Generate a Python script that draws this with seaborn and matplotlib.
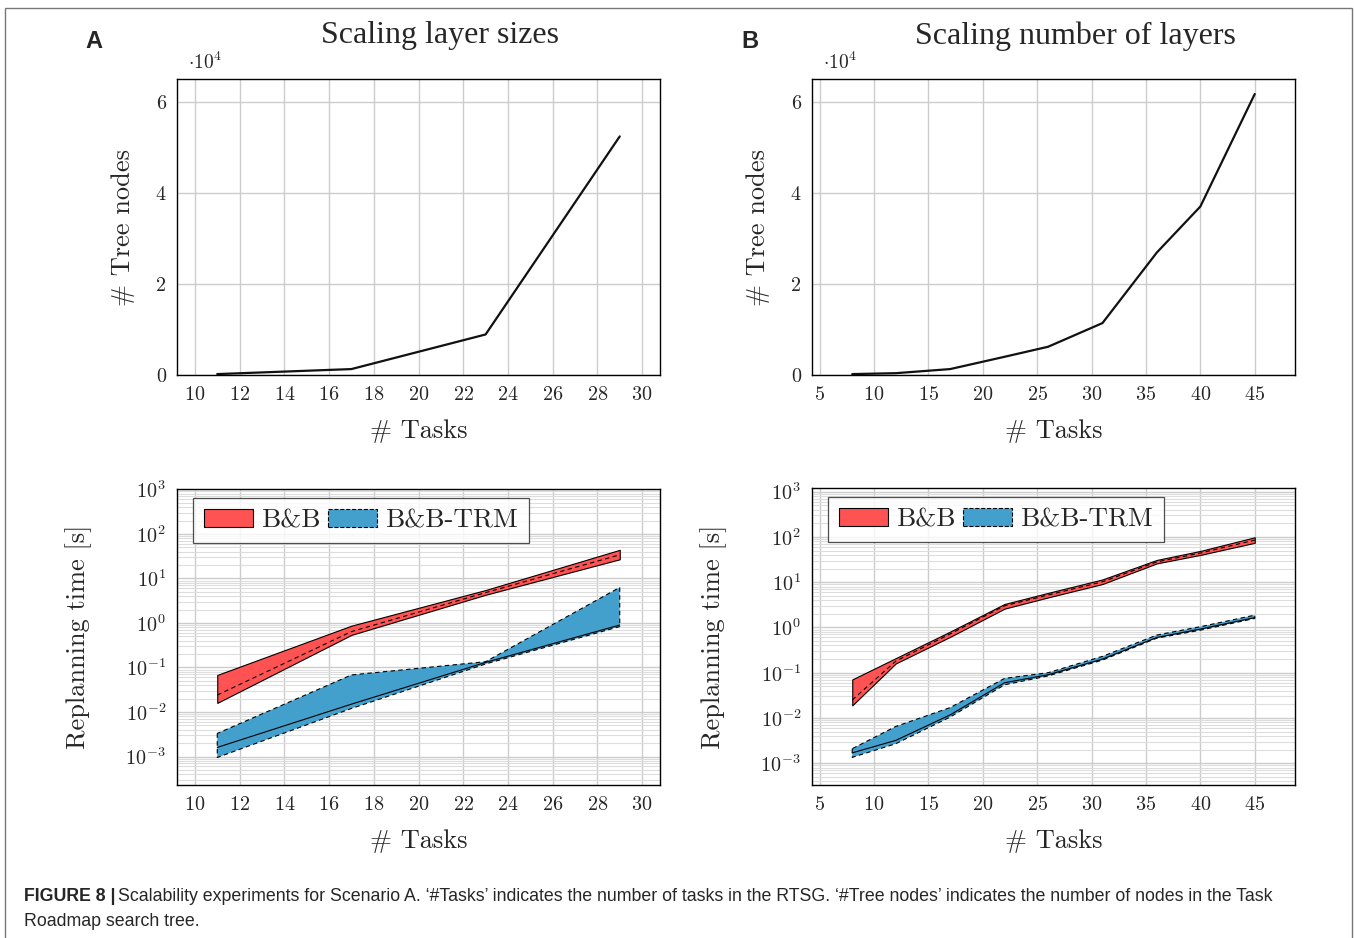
import seaborn as sns
import matplotlib.pyplot as plt
import matplotlib.ticker as mticker
from matplotlib.patches import Rectangle, Patch

# Scaling layer sizes (panel A)
tasks_a = [11, 17, 23, 29]
nodes_a = [200, 1300, 8900, 52400]
bb_hi_a = [0.068, 0.87, 5.5, 44]
bb_mid_a = [0.024, 0.64, 4.8, 34]
bb_lo_a = [0.016, 0.54, 4.3, 27]
trm_hi_a = [0.0033, 0.068, 0.135, 6.3]
trm_mid_a = [0.0016, 0.015, 0.13, 0.90]
trm_lo_a = [0.00095, 0.012, 0.12, 0.83]

# Scaling number of layers (panel B)
tasks_b = [8, 12, 17, 22, 26, 31, 36, 40, 45]
nodes_b = [200, 400, 1300, 4000, 6200, 11400, 26900, 37000, 61700]
bb_hi_b = [0.071, 0.21, 0.81, 3.3, 5.8, 11.5, 31, 49, 98]
bb_mid_b = [0.025, 0.18, 0.72, 3.0, 5.2, 10.2, 28, 44, 85]
bb_lo_b = [0.019, 0.16, 0.62, 2.6, 4.6, 9.1, 26, 40, 74]
trm_hi_b = [0.0021, 0.0065, 0.017, 0.075, 0.10, 0.23, 0.68, 1.04, 1.87]
trm_mid_b = [0.0017, 0.0032, 0.0117, 0.060, 0.09, 0.20, 0.60, 0.92, 1.65]
trm_lo_b = [0.00135, 0.0027, 0.0105, 0.054, 0.085, 0.19, 0.58, 0.87, 1.58]

titles = ['Scaling layer sizes', 'Scaling number of layers']
caption_bold = 'FIGURE 8 |'
caption_1 = ("Scalability experiments for Scenario A. \u2018#Tasks\u2019 indicates the number of tasks "
             "in the RTSG. \u2018#Tree nodes\u2019 indicates the number of nodes in the Task")
caption_2 = 'Roadmap search tree.'

RED = '#FF5252'
BLUE = '#43A0CD'

sns.set_style('ticks')
plt.rcParams['font.family'] = ['cmr10', 'DejaVu Serif']
plt.rcParams['mathtext.fontset'] = 'cm'
plt.rcParams['axes.formatter.use_mathtext'] = True
plt.rcParams['axes.unicode_minus'] = False

W, H = 1354, 938
fig = plt.figure(figsize=(W / 100, H / 100), dpi=100)


def box(l, t, r, b):
    return [l / W, 1 - b / H, (r - l) / W, (b - t) / H]


ax_tl = fig.add_axes(box(177, 79, 660, 375))
ax_tr = fig.add_axes(box(812, 79, 1295, 375))
ax_bl = fig.add_axes(box(177, 489, 660, 785))
ax_br = fig.add_axes(box(812, 488, 1295, 785))


def style(ax):
    for s in ax.spines.values():
        s.set_color('k')
        s.set_linewidth(1.0)
    ax.tick_params(which='both', length=0, labelsize=14.5, pad=8)
    ax.set_axisbelow(True)


# top row: tree nodes
for ax, x, y, xl, xt in [(ax_tl, tasks_a, nodes_a, (9.2, 30.8), range(10, 31, 2)),
                         (ax_tr, tasks_b, nodes_b, (4.3, 48.7), range(5, 46, 5))]:
    sns.lineplot(x=x, y=y, ax=ax, color='#111111', linewidth=1.6)
    ax.set_xlim(*xl)
    ax.set_ylim(0, 6.5e4)
    ax.set_xticks(list(xt))
    ax.set_yticks([0, 2e4, 4e4, 6e4])
    ax.yaxis.set_major_formatter(mticker.FuncFormatter(lambda v, p: f'{v / 1e4:g}'))
    ax.grid(True, color='#cccccc', linewidth=1.0)
    style(ax)
    ax.set_xlabel('# Tasks', fontsize=19)
    ax.set_ylabel('# Tree nodes', fontsize=19)
    ax.xaxis.set_label_coords(0.5, -0.15)
    ax.yaxis.set_label_coords(-0.087, 0.5)
    ax.text(0.023, 1.055, r'$\cdot 10^4$', transform=ax.transAxes, fontsize=14, va='center')

# bottom row: replanning time
dash = (0, (4, 3))
for ax, x, bands, xl, xt, yl in [
        (ax_bl, tasks_a, (bb_lo_a, bb_mid_a, bb_hi_a, trm_lo_a, trm_mid_a, trm_hi_a),
         (9.2, 30.8), range(10, 31, 2), (10 ** -3.64, 10 ** 3.01)),
        (ax_br, tasks_b, (bb_lo_b, bb_mid_b, bb_hi_b, trm_lo_b, trm_mid_b, trm_hi_b),
         (4.3, 48.7), range(5, 46, 5), (10 ** -3.48, 10 ** 3.08))]:
    blo, bmid, bhi, tlo, tmid, thi = bands
    ax.fill_between(x, blo, bhi, facecolor=RED, edgecolor='k', linewidth=0.8, zorder=3)
    sns.lineplot(x=x, y=bmid, ax=ax, color='k', linewidth=0.8, linestyle=dash, zorder=4)
    ax.fill_between(x, tlo, thi, facecolor=BLUE, edgecolor='k', linewidth=0.8,
                    linestyle=dash, zorder=3)
    sns.lineplot(x=x, y=tmid, ax=ax, color='k', linewidth=0.8, zorder=4)
    ax.set_yscale('log')
    ax.set_xlim(*xl)
    ax.set_ylim(*yl)
    ax.set_xticks(list(xt))
    ax.yaxis.set_major_locator(mticker.LogLocator(base=10, numticks=20))
    ax.yaxis.set_minor_locator(mticker.LogLocator(base=10, subs=list(range(2, 10)), numticks=20))
    ax.grid(True, which='major', color='#cccccc', linewidth=1.0)
    ax.grid(True, which='minor', axis='y', color='#dddddd', linewidth=0.8)
    style(ax)
    ax.set_xlabel('# Tasks', fontsize=19)
    ax.set_ylabel('Replanning time [s]', fontsize=19)
    ax.xaxis.set_label_coords(0.5, -0.15)
    ax.yaxis.set_label_coords(-0.176, 0.5)
    handles = [Patch(facecolor=RED, edgecolor='k', linewidth=0.8, label='B&B'),
               Patch(facecolor=BLUE, edgecolor='k', linewidth=0.8, linestyle='--', label='B&B-TRM')]
    leg = ax.legend(handles=handles, loc='upper left', bbox_to_anchor=(16 / 483, 1 - 9 / 296),
                    borderaxespad=0, ncol=2, fontsize=19.5, frameon=True, fancybox=False,
                    handlelength=1.8, handleheight=0.6, handletextpad=0.3, columnspacing=0.3,
                    borderpad=0.4)
    leg.get_frame().set_edgecolor('#222222')
    leg.get_frame().set_linewidth(0.9)
    leg.set_zorder(10)

# titles and panel letters
fig.text(440 / W, 1 - 36 / H, titles[0], ha='center', va='center',
         family='Liberation Serif', fontsize=23)
fig.text(1075 / W, 1 - 36 / H, titles[1], ha='center', va='center',
         family='Liberation Serif', fontsize=23)
fig.text(94 / W, 1 - 42 / H, 'A', ha='center', va='center', family='Liberation Sans',
         fontweight='bold', fontsize=17)
fig.text(750 / W, 1 - 42 / H, 'B', ha='center', va='center', family='Liberation Sans',
         fontweight='bold', fontsize=17)

# caption
cap_font = ['Liberation Sans Narrow', 'Liberation Sans']
t_bold = fig.text(24 / W, 1 - 896 / H, caption_bold, ha='left', va='center',
                  family=cap_font, fontweight='bold', fontsize=12.75)
fig.canvas.draw()
bb = t_bold.get_window_extent()
fig.text((bb.x1 + 3) / W, 1 - 896 / H, caption_1, ha='left', va='center',
         family=cap_font, fontsize=12.75)
fig.text(24 / W, 1 - 921 / H, caption_2, ha='left', va='center',
         family=cap_font, fontsize=12.75)

fig.patches.append(Rectangle((5 / W, -0.02), (1352 - 5) / W, 1.02 - 8 / H,
                             transform=fig.transFigure, fill=False,
                             edgecolor='#777777', linewidth=1.0))

fig.savefig('out.png', dpi=100)
